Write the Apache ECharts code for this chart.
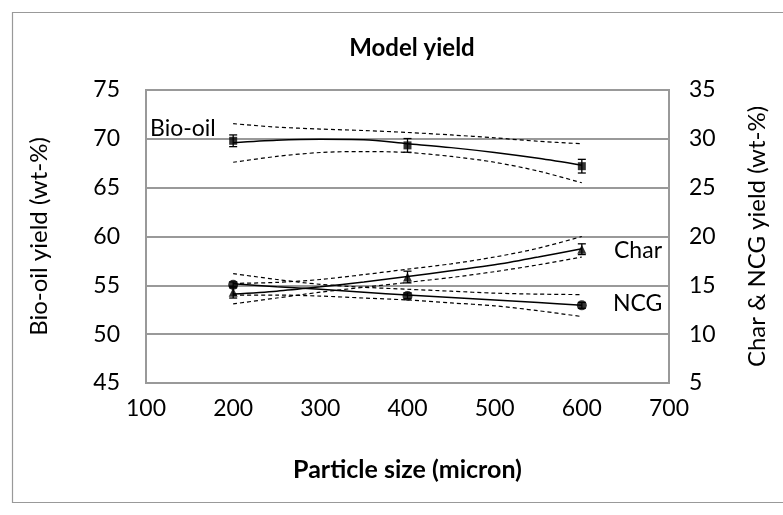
<!DOCTYPE html>
<html><head><meta charset="utf-8">
<script src="https://cdn.jsdelivr.net/npm/echarts@6/dist/echarts.min.js"></script>
<style>html,body{margin:0;padding:0;background:#fff}#c{width:783px;height:515px}</style>
</head><body><div id="c"></div>
<script>
// Model curves (x in micron)
const xModel   = [200, 250, 300, 350, 400, 450, 500, 550, 600];
const bioModel = [69.6, 69.85, 69.95, 69.9, 69.5, 69.1, 68.6, 68.0, 67.3];
const bioUpper = [71.55, 71.2, 71.0, 70.85, 70.65, 70.4, 70.1, 69.75, 69.5];
const bioLower = [67.6, 68.2, 68.6, 68.7, 68.6, 68.2, 67.6, 66.7, 65.5];
const charModel = [14.1, 14.4, 14.85, 15.35, 15.9, 16.5, 17.1, 17.9, 18.75];
const charUpper = [15.2, 15.3, 15.6, 16.1, 16.65, 17.2, 17.9, 18.8, 20.0];
const charLower = [13.1, 13.7, 14.3, 14.8, 15.3, 15.8, 16.4, 17.1, 17.9];
const ncgModel = [15.15, 14.85, 14.6, 14.3, 14.0, 13.75, 13.5, 13.25, 12.95];
const ncgUpper = [16.2, 15.6, 15.1, 14.8, 14.6, 14.4, 14.2, 14.1, 14.05];
const ncgLower = [14.0, 14.0, 13.9, 13.7, 13.5, 13.2, 12.9, 12.4, 11.8];
// Experimental points
const xExp = [200, 400, 600];
const bioExp = [69.8, 69.33, 67.2];
const bioErr = [0.6, 0.7, 0.7];
const charExp = [14.3, 15.85, 18.7];
const charErr = [0.6, 0.6, 0.55];
const ncgExp = [15.05, 13.92, 12.95];
const ncgErr = [0.3, 0.3, 0.3];
// Axis ticks
const xTicks = {min: 100, max: 700, step: 100};
const leftTicks = {min: 45, max: 75, step: 5};
const rightTicks = {min: 5, max: 35, step: 5};

const FONT = 'Lato, "Open Sans", sans-serif';
const pair = (xs, ys) => xs.map((x, i) => [x, ys[i]]);

function lineSeries(name, ys, yAxisIndex, dashed) {
  return {
    name, type: 'line', yAxisIndex, data: pair(xModel, ys), smooth: 0.3,
    symbol: 'none', silent: true, z: 2,
    lineStyle: {color: '#000', width: dashed ? 1.2 : 1.5, type: dashed ? [4, 3] : 'solid'}
  };
}
function pointSeries(name, ys, yAxisIndex, symbol, size) {
  return {
    name, type: 'scatter', yAxisIndex, data: pair(xExp, ys), symbol, symbolSize: size,
    itemStyle: {color: '#000'}, z: 5
  };
}
function errSeries(name, ys, errs, yAxisIndex) {
  return {
    name, type: 'custom', yAxisIndex, z: 4,
    data: xExp.map((x, i) => [x, ys[i] - errs[i], ys[i] + errs[i]]),
    renderItem: function (params, api) {
      const lo = api.coord([api.value(0), api.value(1)]);
      const hi = api.coord([api.value(0), api.value(2)]);
      const w = 4;
      const st = {stroke: '#000', lineWidth: 1.3};
      return {type: 'group', children: [
        {type: 'line', shape: {x1: lo[0], y1: lo[1], x2: hi[0], y2: hi[1]}, style: st},
        {type: 'line', shape: {x1: lo[0] - w, y1: lo[1], x2: lo[0] + w, y2: lo[1]}, style: st},
        {type: 'line', shape: {x1: hi[0] - w, y1: hi[1], x2: hi[0] + w, y2: hi[1]}, style: st}
      ]};
    }
  };
}

const chart = echarts.init(document.getElementById('c'));
chart.setOption({
  animation: false,
  backgroundColor: '#fff',
  title: {text: 'Model yield', left: 407, top: 31, textAlign: 'center',
    textStyle: {fontFamily: FONT, fontSize: 24, fontWeight: 'bold', color: '#000'}},
  grid: {left: 146, right: 114, top: 90, bottom: 132, show: true, borderColor: '#999', borderWidth: 2},
  xAxis: {
    type: 'value', min: xTicks.min, max: xTicks.max, interval: xTicks.step,
    name: 'Particle size (micron)', nameLocation: 'middle', nameGap: 74,
    nameTextStyle: {fontFamily: FONT, fontSize: 25, fontWeight: 'bold', color: '#000'},
    axisLine: {show: false}, axisTick: {show: false}, splitLine: {show: false},
    axisLabel: {fontFamily: FONT, fontSize: 23, color: '#000', margin: 14}
  },
  yAxis: [{
    type: 'value', min: leftTicks.min, max: leftTicks.max, interval: leftTicks.step,
    name: 'Bio-oil yield (wt-%)', nameLocation: 'middle', nameGap: 95, nameRotate: 90,
    nameTextStyle: {fontFamily: FONT, fontSize: 24, color: '#000'},
    axisLine: {show: false}, axisTick: {show: false},
    splitLine: {show: true, lineStyle: {color: '#999', width: 2}},
    axisLabel: {fontFamily: FONT, fontSize: 23, color: '#000', margin: 26}
  }, {
    type: 'value', min: rightTicks.min, max: rightTicks.max, interval: rightTicks.step,
    name: 'Char & NCG yield (wt-%)', nameLocation: 'middle', nameGap: 76, nameRotate: 90,
    nameTextStyle: {fontFamily: FONT, fontSize: 24, color: '#000'},
    axisLine: {show: false}, axisTick: {show: false}, splitLine: {show: false},
    axisLabel: {fontFamily: FONT, fontSize: 23, color: '#000', margin: 20}
  }],
  graphic: [
    {type: 'rect', shape: {x: 12.5, y: 12.5, width: 800, height: 490}, style: {fill: 'none', stroke: '#999', lineWidth: 1.2}, silent: true},
    {type: 'text', left: 150, top: 117, style: {text: 'Bio-oil', fontFamily: FONT, fontSize: 23, fill: '#000'}},
    {type: 'text', left: 614, top: 239, style: {text: 'Char', fontFamily: FONT, fontSize: 23, fill: '#000'}},
    {type: 'text', left: 613, top: 292, style: {text: 'NCG', fontFamily: FONT, fontSize: 23, fill: '#000'}}
  ],
  series: [
    lineSeries('Bio-oil model', bioModel, 0, false),
    lineSeries('Bio-oil upper', bioUpper, 0, true),
    lineSeries('Bio-oil lower', bioLower, 0, true),
    lineSeries('Char model', charModel, 1, false),
    lineSeries('Char upper', charUpper, 1, true),
    lineSeries('Char lower', charLower, 1, true),
    lineSeries('NCG model', ncgModel, 1, false),
    lineSeries('NCG upper', ncgUpper, 1, true),
    lineSeries('NCG lower', ncgLower, 1, true),
    errSeries('Bio-oil err', bioExp, bioErr, 0),
    errSeries('Char err', charExp, charErr, 1),
    errSeries('NCG err', ncgExp, ncgErr, 1),
    pointSeries('Bio-oil exp', bioExp, 0, 'rect', 8),
    pointSeries('Char exp', charExp, 1, 'triangle', 9),
    pointSeries('NCG exp', ncgExp, 1, 'circle', 10)
  ]
});
</script></body></html>
